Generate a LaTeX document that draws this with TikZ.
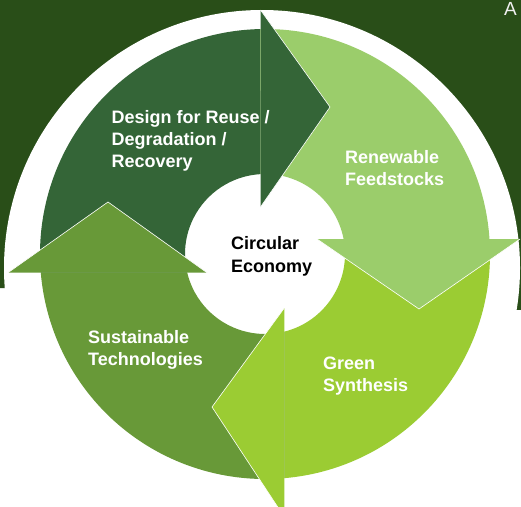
\documentclass[tikz,border=0pt]{standalone}
\usepackage{fontspec}
\setmainfont{Liberation Sans}
\definecolor{bgdark}{RGB}{41,78,24}
\definecolor{segdesign}{RGB}{52,101,55}
\definecolor{segfeed}{RGB}{155,205,107}
\definecolor{segsynth}{RGB}{155,204,51}
\definecolor{segtech}{RGB}{104,153,56}

\begin{document}
\begin{tikzpicture}[x=1pt,y=-1pt,
  lbl/.style={anchor=base west,inner sep=0pt,font=\fontsize{18}{21.6}\selectfont\bfseries,text=white},
  headedge/.style={draw=white,line width=0.6pt}]
\path[use as bounding box] (0,0) rectangle (521,506);
\fill[bgdark] (0,0) -- (521,0) -- (521,310) -- (0,288) -- cycle;
\fill[white] (262,268) circle[radius=258];
\node[anchor=base west,inner sep=0pt,font=\fontsize{19}{22.8}\selectfont,text=white!88!gray] (titlecut) at (504,15) {A};
% ring bodies, centre of the ring at (265,254)
\begin{scope}[shift={(265,254)}]
\fill[segdesign] (175.23:225) arc[start angle=175.23,end angle=268.85,radius=225] -- (266.78:80) arc[start angle=266.78,end angle=166.48,radius=80] -- cycle;
\fill[segfeed] (-91.15:225) arc[start angle=-91.15,end angle=-3.82,radius=225] -- (-10.81:80) arc[start angle=-10.81,end angle=-93.22,radius=80] -- cycle;
\fill[segsynth] (-3.82:225) arc[start angle=-3.82,end angle=85.08,radius=225] -- (76.04:80) arc[start angle=76.04,end angle=-10.81,radius=80] -- cycle;
\fill[segtech] (85.08:225) arc[start angle=85.08,end angle=175.23,radius=225] -- (166.48:80) arc[start angle=166.48,end angle=76.04,radius=80] -- cycle;
\end{scope}
% arrow heads
\fill[segdesign] (260.5,10) -- (330,107) -- (260.5,207) -- cycle;
\draw[headedge] (260.5,10) -- (330,107) -- (260.5,207);
\fill[segfeed] (520,239) -- (419,309) -- (317,239) -- cycle;
\draw[headedge] (520,239) -- (419,309) -- (317,239);
\fill[segsynth] (284.3,517) -- (212,407) -- (284.3,308) -- cycle;
\draw[headedge] (284.3,517) -- (212,407) -- (284.3,308);
\fill[segtech] (8,272.7) -- (108,202) -- (207,272.7) -- cycle;
\draw[headedge] (8,272.7) -- (108,202) -- (207,272.7);
% labels
\node[lbl] (design1) at (111.5,123.3) {Design for Reuse /};
\node[lbl] (design2) at (111.5,145.5) {Degradation /};
\node[lbl] (design3) at (111.5,167.7) {Recovery};
\node[lbl] (feed1) at (345,163) {Renewable};
\node[lbl] (feed2) at (345,185.5) {Feedstocks};
\node[lbl,text=black] (centre1) at (231,249.3) {Circular};
\node[lbl,text=black] (centre2) at (231,272) {Economy};
\node[lbl] (synth1) at (323,369.5) {Green};
\node[lbl] (synth2) at (323,391.5) {Synthesis};
\node[lbl] (tech1) at (88,343) {Sustainable};
\node[lbl] (tech2) at (88,365.5) {Technologies};
\end{tikzpicture}
\end{document}
